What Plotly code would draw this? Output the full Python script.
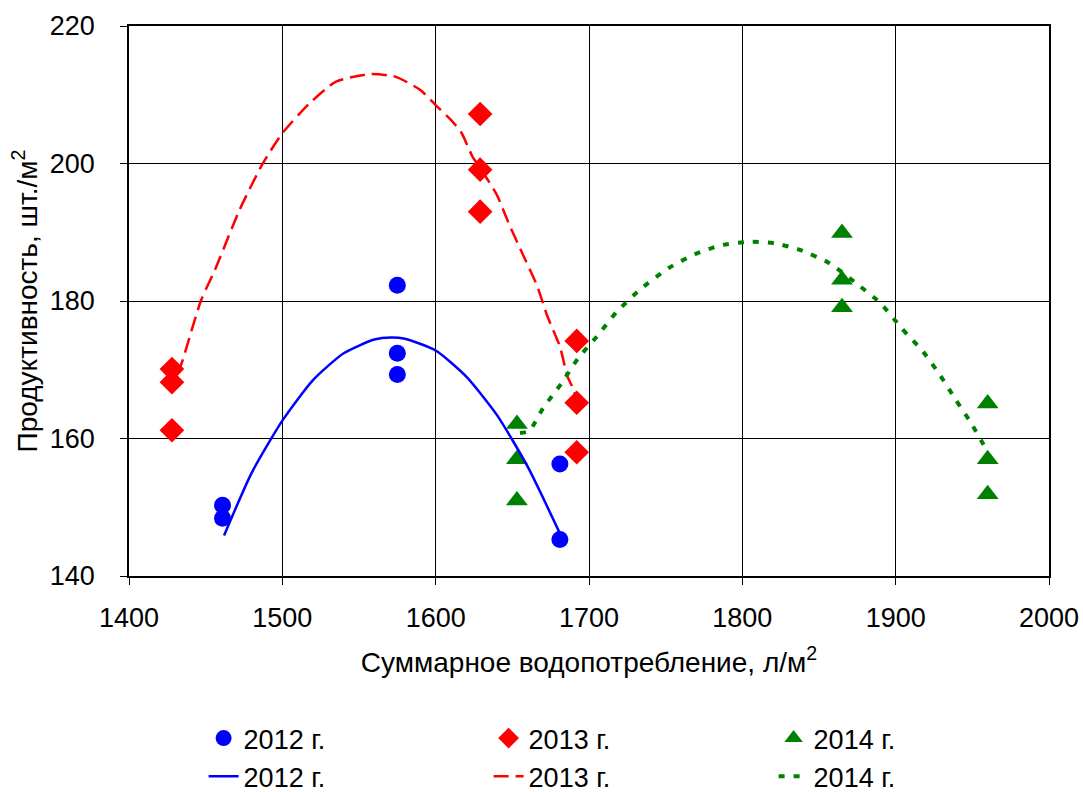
import plotly.graph_objects as go

# Observed points
x2012 = [1461, 1461, 1575, 1575, 1575, 1681, 1681]
y2012 = [150.3, 148.4, 182.3, 172.4, 169.3, 156.3, 145.3]

x2013 = [1428, 1428, 1428, 1629, 1629, 1629, 1692, 1692, 1692]
y2013 = [170.1, 168.2, 161.2, 207.2, 199.1, 193.0, 174.2, 165.2, 158.0]

x2014 = [1653, 1653, 1653, 1865, 1865, 1865, 1960, 1960, 1960]
y2014 = [162.1, 157.0, 151.0, 189.9, 183.1, 179.1, 165.1, 157.0, 151.9]

# Trend curves
cx2012 = [1462, 1480, 1500, 1520, 1540, 1560, 1571, 1580, 1600, 1620, 1640, 1660, 1681]
cy2012 = [145.9, 155.0, 162.6, 168.5, 172.4, 174.4, 174.7, 174.5, 172.8, 169.0, 163.4, 155.9, 146.2]

cx2013 = [1432, 1435, 1447, 1456, 1472, 1487, 1500, 1518, 1535, 1557, 1574, 1590, 1600,
          1611, 1617, 1624, 1630, 1640, 1648, 1657, 1666, 1673, 1681, 1686, 1690, 1692]
cy2013 = [169.5, 171.4, 180.1, 184.5, 193.2, 199.9, 204.4, 208.8, 211.9, 213.0, 212.6, 210.7, 208.5,
          206.1, 204.4, 201.0, 199.0, 195.4, 191.1, 186.7, 182.3, 177.7, 173.4, 169.0, 167.1, 165.5]

cx2014 = [1655, 1661, 1670, 1682, 1693, 1705, 1718, 1734, 1752, 1769, 1786, 1804, 1821, 1838,
          1856, 1873, 1890, 1904, 1918, 1929, 1939, 1949, 1958, 1960]
cy2014 = [160.8, 161.1, 164.4, 168.0, 171.7, 174.8, 178.4, 181.8, 184.8, 186.8, 188.1, 188.6, 188.4, 187.4,
          185.6, 182.8, 179.7, 176.0, 172.6, 169.2, 165.7, 162.3, 158.8, 157.5]

xticks = [1400, 1500, 1600, 1700, 1800, 1900, 2000]
yticks = [140, 160, 180, 200, 220]

BLUE, RED, GREEN = "#0000FF", "#FF0000", "#008000"
FONT = "Arial, Liberation Sans, sans-serif"

fig = go.Figure()
fig.add_trace(go.Scatter(x=x2012, y=y2012, mode="markers", name="2012 г.",
                         marker=dict(symbol="circle", size=17, color=BLUE)))
fig.add_trace(go.Scatter(x=x2013, y=y2013, mode="markers", name="2013 г.",
                         marker=dict(symbol="diamond", size=19, color=RED)))
fig.add_trace(go.Scatter(x=x2014, y=y2014, mode="markers", name="2014 г.",
                         marker=dict(symbol="triangle-up", size=19, color=GREEN)))
fig.add_trace(go.Scatter(x=cx2012, y=cy2012, mode="lines", name="2012 г.",
                         line=dict(color=BLUE, width=2.5, shape="spline", smoothing=0.6)))
fig.add_trace(go.Scatter(x=cx2013, y=cy2013, mode="lines", name="2013 г.",
                         line=dict(color=RED, width=2.5, dash="15px,7px", shape="spline", smoothing=0.6)))
fig.add_trace(go.Scatter(x=cx2014, y=cy2014, mode="lines", name="2014 г.",
                         line=dict(color=GREEN, width=4, dash="6px,9px", shape="spline", smoothing=0.6)))

axis_common = dict(showgrid=True, gridcolor="black", gridwidth=1,
                   showline=True, linecolor="black", linewidth=1.5, mirror=True,
                   ticks="outside", ticklen=7, tickcolor="black", zeroline=False,
                   tickfont=dict(family=FONT, size=27, color="black"))

fig.update_layout(
    width=1083, height=792,
    paper_bgcolor="white", plot_bgcolor="white",
    margin=dict(l=129, r=34, t=26, b=216, autoexpand=False),
    font=dict(family=FONT, color="black"),
    xaxis=dict(range=[1400, 2000], tickvals=xticks, ticklabelstandoff=10,
               title=dict(text="Суммарное водопотребление, л/м<sup>2</sup>",
                          font=dict(family=FONT, size=28), standoff=20),
               **axis_common),
    yaxis=dict(range=[140, 220], tickvals=yticks, ticklabelstandoff=20,
               title=dict(text="Продуктивность, шт./м<sup>2</sup>",
                          font=dict(family=FONT, size=28), standoff=4),
               **axis_common),
    showlegend=True,
    legend=dict(orientation="h", xref="container", yref="container",
                x=0.188, y=1 - 714 / 792, xanchor="left", yanchor="top",
                entrywidth=240, entrywidthmode="pixels",
                font=dict(family=FONT, size=27, color="black"),
                bgcolor="rgba(0,0,0,0)", traceorder="normal"),
)

fig.write_html("out.html")
